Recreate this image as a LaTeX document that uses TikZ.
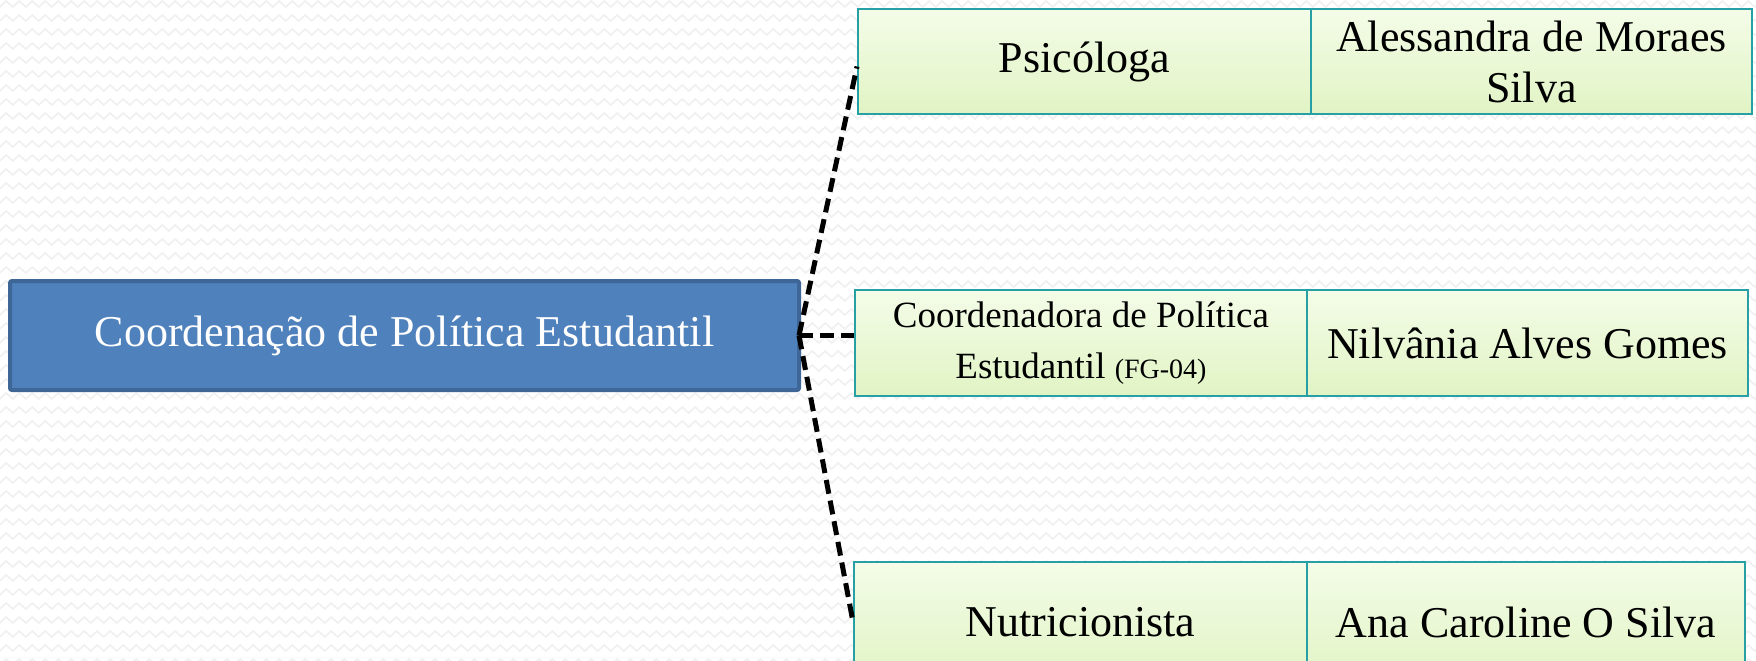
\documentclass[tikz,border=0pt]{standalone}
\usepackage{fontspec}
\setmainfont{Liberation Serif}
\usetikzlibrary{decorations.pathmorphing}
\definecolor{boxblue}{HTML}{4F81BD}
\definecolor{boxblueline}{HTML}{3E6797}
\definecolor{cellline}{HTML}{26A0A4}
\definecolor{celltop}{HTML}{F4FCE8}
\definecolor{cellbot}{HTML}{E1F4C4}
\definecolor{bgzig}{HTML}{F0F0F0}
\tikzset{
  mainbox/.style={draw=boxblueline, line width=4pt, fill=boxblue, rounded corners=2pt,
    inner sep=0pt, text=white, font=\fontsize{44}{51}\selectfont, anchor=north west},
  cellbox/.style={draw=cellline, line width=2pt, top color=celltop, bottom color=cellbot,
    inner sep=0pt, align=center, font=\fontsize{44}{51}\selectfont, anchor=north west},
  link/.style={draw=black, line width=5pt, dash pattern=on 14pt off 7pt},
  zig/.style={draw=bgzig, line width=1.6pt, decorate, decoration={zigzag, segment length=13pt, amplitude=3pt}}
}
\begin{document}
\begin{tikzpicture}[x=1pt,y=-1pt]
\useasboundingbox (0,0) rectangle (1756,661);
\clip (0,0) rectangle (1756,661);
\fill[white] (0,0) rectangle (1756,661);
\foreach \yy in {4,18,...,662} {\path[zig] (-10,\yy) -- (1770,\yy);}
% main box
\node[mainbox, minimum width=789pt, minimum height=109pt] (coord) at (8,279) {Coordenação de Política Estudantil};
% top row
\node[cellbox, minimum width=453pt, minimum height=105pt] (psi) at (857,8) {Psicóloga};
\node[cellbox, minimum width=441pt, minimum height=105pt] (ale) at (1310,8) {Alessandra de Moraes\\Silva};
% middle row
\node[cellbox, minimum width=452pt, minimum height=106pt] (cpe) at (854,289)
  {\fontsize{37}{49}\selectfont Coordenadora de Política\\\fontsize{37}{49}\selectfont Estudantil {\fontsize{28}{49}\selectfont (FG-04)}};
\node[cellbox, minimum width=441pt, minimum height=106pt] (nil) at (1306,289) {Nilvânia Alves Gomes};
% bottom row
\node[cellbox, minimum width=453pt, minimum height=120pt] (nut) at (853,561) {Nutricionista};
\node[cellbox, minimum width=438pt, minimum height=120pt] (ana) at (1306,561) {Ana Caroline O Silva};
% connectors
\coordinate (j) at ([xshift=-2pt]coord.east);
\coordinate (pt) at ([yshift=-5pt]psi.west);
\coordinate (mid) at (cpe.west |- j);
\draw[link] (j) -- (pt);
\draw[link] (j) -- (mid);
\draw[link] (j) -- (nut.west);
\end{tikzpicture}
\end{document}
